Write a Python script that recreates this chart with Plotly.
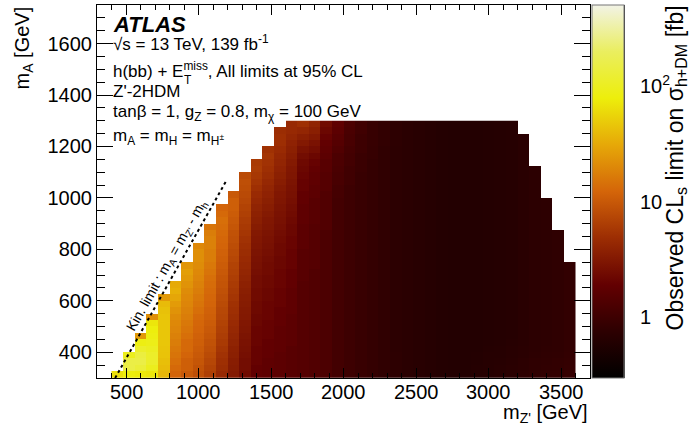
import math
import plotly.graph_objects as go

# ---------------- data ----------------
# bin edges of the 2D limit map
mzp_edges = [400, 480, 560, 640, 720, 800, 880, 960, 1040, 1120, 1200, 1280, 1360, 1440,
             1520, 1600, 1680, 1760, 1840, 1920, 2000, 2080, 2160, 2240, 2320, 2400, 2480,
             2560, 2640, 2720, 2800, 2880, 2960, 3040, 3120, 3200, 3280, 3360, 3440, 3520, 3600]
ma_edges = [300, 325, 350, 375, 400, 425, 450, 475, 500, 525, 550, 575, 600, 625, 650, 675,
            700, 725, 750, 775, 800, 825, 850, 875, 900, 925, 950, 975, 1000, 1025, 1050,
            1075, 1100, 1125, 1150, 1175, 1200, 1225, 1250, 1275, 1300]

# observed limit [fb], one list per m_Z' column, listed from the lowest m_A bin upwards
limit_by_column = [
    [65],
    [80, 150, 150, 95],
    [75, 130, 150, 140, 110, 85, 25],
    [70, 95, 110, 110, 100, 90, 85, 80, 70, 22],
    [38, 40, 42, 44, 45, 46, 46, 46, 46, 45, 43, 40, 25],
    [12, 13, 14, 15, 16, 17, 18, 19, 20, 21, 23, 26, 30, 34, 32],
    [10, 11, 11, 12, 13, 13, 14, 15, 16, 17, 18, 19, 20, 21, 23, 25, 27, 24],
    [8.5, 9, 9.5, 10, 10.5, 11, 11.5, 12, 12.5, 13, 14, 15, 16, 17, 18, 19, 20, 21, 22, 22, 20],
    [6.5, 7, 7.5, 8, 8.5, 9, 9.5, 10, 10.5, 11, 11.5, 12, 12.5, 13, 13.5, 14, 15, 16, 17, 17,
     18, 18, 17, 15],
    [4.5, 4.8, 5, 5.3, 5.6, 6, 6.3, 6.6, 7, 7.3, 7.6, 8, 8.4, 8.8, 9.2, 9.6, 10, 10.5, 11, 11.5,
     12, 12.5, 13, 13.5, 14, 13, 12],
    [3.3, 3.4, 3.5, 3.7, 3.8, 4, 4.2, 4.4, 4.6, 4.8, 5, 5.2, 5.5, 5.8, 6.1, 6.4, 6.7, 7, 7.4, 7.8,
     8.2, 8.6, 9, 9.5, 10, 10.5, 11, 11, 10],
    [2.4, 2.5, 2.5, 2.6, 2.7, 2.8, 2.9, 3.0, 3.1, 3.2, 3.3, 3.4, 3.5, 3.6, 3.8, 4.0, 4.2, 4.4, 4.6, 4.8,
     5.0, 5.3, 5.6, 5.9, 6.2, 6.6, 7.0, 7.4, 7.8, 8.2, 8.5, 8.0],
    [1.9, 1.9, 2.0, 2.0, 2.0, 2.1, 2.1, 2.1, 2.2, 2.2, 2.3, 2.3, 2.4, 2.4, 2.5, 2.5, 2.6, 2.7, 2.8, 2.9,
     3.0, 3.1, 3.2, 3.4, 3.6, 3.8, 4.0, 4.3, 4.6, 5.0, 5.4, 5.8, 6.2, 6.0],
    [1.8, 1.8, 1.8, 1.9, 1.9, 1.9, 2.0, 2.0, 2.0, 2.1, 2.1, 2.1, 2.2, 2.2, 2.3, 2.3, 2.4, 2.4, 2.5, 2.6,
     2.7, 2.8, 2.9, 3.0, 3.1, 3.3, 3.5, 3.7, 3.9, 4.1, 4.4, 4.7, 5.0, 5.3, 5.5, 5.2],
    [1.7, 1.7, 1.7, 1.7, 1.8, 1.8, 1.8, 1.8, 1.9, 1.9, 1.9, 2.0, 2.0, 2.0, 2.1, 2.1, 2.1, 2.2, 2.2, 2.3,
     2.3, 2.4, 2.5, 2.6, 2.7, 2.8, 2.9, 3.0, 3.1, 3.3, 3.5, 3.7, 3.9, 4.1, 4.3, 4.6, 4.9, 5.0, 4.8],
    [1.6, 1.6, 1.6, 1.6, 1.6, 1.7, 1.7, 1.7, 1.7, 1.7, 1.8, 1.8, 1.8, 1.8, 1.9, 1.9, 1.9, 2.0, 2.0, 2.0,
     2.1, 2.1, 2.2, 2.2, 2.3, 2.4, 2.5, 2.6, 2.7, 2.8, 2.9, 3.0, 3.1, 3.3, 3.5, 3.7, 3.9, 4.2, 4.5, 4.5],
    [1.5, 1.5, 1.5, 1.5, 1.5, 1.5, 1.5, 1.5, 1.5, 1.5, 1.5, 1.5, 1.5, 1.5, 1.5, 1.6, 1.6, 1.6, 1.6, 1.6,
     1.7, 1.7, 1.7, 1.7, 1.8, 1.8, 1.8, 1.9, 1.9, 2.0, 2.0, 2.1, 2.2, 2.3, 2.5, 2.8, 3.2, 3.6, 4.2, 5.0],
    [1.4, 1.4, 1.4, 1.4, 1.4, 1.4, 1.4, 1.4, 1.4, 1.4, 1.4, 1.4, 1.4, 1.4, 1.4, 1.4, 1.4, 1.5, 1.5, 1.5,
     1.5, 1.5, 1.5, 1.5, 1.6, 1.6, 1.6, 1.6, 1.7, 1.7, 1.8, 1.8, 1.9, 2.0, 2.2, 2.5, 2.8, 3.2, 3.6, 4.0],
    [1.3, 1.3, 1.3, 1.3, 1.3, 1.3, 1.3, 1.3, 1.3, 1.3, 1.3, 1.3, 1.3, 1.3, 1.3, 1.3, 1.3, 1.3, 1.3, 1.3,
     1.3, 1.3, 1.3, 1.4, 1.4, 1.4, 1.4, 1.4, 1.4, 1.5, 1.5, 1.5, 1.6, 1.6, 1.7, 1.8, 1.9, 2.0, 2.2, 2.4],
    [1.1, 1.1, 1.1, 1.1, 1.1, 1.1, 1.1, 1.1, 1.1, 1.1, 1.1, 1.1, 1.1, 1.1, 1.1, 1.1, 1.1, 1.1, 1.1, 1.1,
     1.1, 1.1, 1.1, 1.1, 1.1, 1.1, 1.1, 1.1, 1.15, 1.15, 1.2, 1.2, 1.25, 1.3, 1.3, 1.4, 1.5, 1.6, 1.7, 1.8],
    [1.0, 1.0, 1.0, 1.0, 1.0, 1.0, 1.0, 1.0, 1.0, 1.0, 1.0, 1.0, 1.0, 1.0, 1.0, 1.0, 1.0, 1.0, 1.0, 1.0,
     1.0, 1.0, 1.0, 1.0, 1.0, 1.0, 1.0, 1.0, 1.0, 1.0, 1.05, 1.05, 1.05, 1.1, 1.1, 1.15, 1.2, 1.2, 1.25, 1.3],
    [0.92, 0.92, 0.92, 0.92, 0.92, 0.92, 0.92, 0.92, 0.92, 0.92, 0.92, 0.92, 0.92, 0.92, 0.92, 0.92,
     0.92, 0.92, 0.92, 0.92, 0.92, 0.92, 0.92, 0.92, 0.92, 0.92, 0.92, 0.92, 0.92, 0.92, 0.92, 0.92,
     0.95, 0.95, 0.95, 1.0, 1.0, 1.0, 1.05, 1.05],
    [0.86, 0.86, 0.86, 0.86, 0.86, 0.86, 0.86, 0.86, 0.86, 0.86, 0.86, 0.86, 0.86, 0.86, 0.86, 0.86,
     0.86, 0.86, 0.86, 0.86, 0.86, 0.86, 0.86, 0.86, 0.86, 0.86, 0.86, 0.86, 0.86, 0.86, 0.86, 0.86,
     0.86, 0.86, 0.88, 0.88, 0.9, 0.9, 0.9, 0.9],
    [0.8, 0.8, 0.8, 0.8, 0.8, 0.8, 0.8, 0.8, 0.8, 0.8, 0.8, 0.8, 0.8, 0.8, 0.8, 0.8, 0.8, 0.8, 0.8, 0.8,
     0.8, 0.8, 0.8, 0.8, 0.8, 0.8, 0.8, 0.8, 0.8, 0.8, 0.8, 0.8, 0.8, 0.8, 0.8, 0.8, 0.82, 0.82, 0.82, 0.82],
    [0.76, 0.76, 0.76, 0.76, 0.75, 0.75, 0.75, 0.75, 0.75, 0.75, 0.75, 0.75, 0.75, 0.75, 0.75, 0.75,
     0.75, 0.75, 0.75, 0.75, 0.75, 0.75, 0.75, 0.75, 0.75, 0.75, 0.75, 0.75, 0.75, 0.75, 0.75, 0.75,
     0.75, 0.75, 0.75, 0.75, 0.76, 0.76, 0.76, 0.76],
    [0.72, 0.72, 0.72, 0.72, 0.71, 0.71, 0.71, 0.71, 0.71, 0.71, 0.71, 0.71, 0.71, 0.71, 0.71, 0.71,
     0.71, 0.71, 0.71, 0.71, 0.71, 0.71, 0.71, 0.71, 0.71, 0.71, 0.71, 0.71, 0.71, 0.71, 0.71, 0.71,
     0.71, 0.71, 0.71, 0.71, 0.72, 0.72, 0.72, 0.72],
    [0.68, 0.68, 0.68, 0.68, 0.68, 0.68, 0.68, 0.68, 0.68, 0.68, 0.68, 0.68, 0.68, 0.68, 0.68, 0.68,
     0.68, 0.68, 0.68, 0.68, 0.68, 0.68, 0.68, 0.68, 0.68, 0.68, 0.68, 0.68, 0.68, 0.68, 0.68, 0.68,
     0.68, 0.68, 0.68, 0.68, 0.68, 0.68, 0.68, 0.68],
    [0.65, 0.65, 0.65, 0.65, 0.65, 0.65, 0.65, 0.65, 0.65, 0.65, 0.65, 0.65, 0.65, 0.65, 0.65, 0.65,
     0.65, 0.65, 0.65, 0.65, 0.65, 0.65, 0.65, 0.65, 0.65, 0.65, 0.65, 0.65, 0.65, 0.65, 0.65, 0.65,
     0.65, 0.65, 0.65, 0.65, 0.65, 0.65, 0.65, 0.65],
    [0.63, 0.63, 0.63, 0.63, 0.63, 0.63, 0.63, 0.63, 0.63, 0.63, 0.63, 0.63, 0.63, 0.63, 0.63, 0.63,
     0.63, 0.63, 0.63, 0.63, 0.63, 0.63, 0.63, 0.63, 0.63, 0.63, 0.63, 0.63, 0.63, 0.63, 0.63, 0.63,
     0.63, 0.63, 0.63, 0.63, 0.63, 0.63, 0.63, 0.63],
    [0.62, 0.62, 0.62, 0.62, 0.62, 0.62, 0.62, 0.62, 0.62, 0.62, 0.62, 0.62, 0.62, 0.62, 0.62, 0.62,
     0.62, 0.62, 0.62, 0.62, 0.62, 0.62, 0.62, 0.62, 0.62, 0.62, 0.62, 0.62, 0.62, 0.62, 0.62, 0.62,
     0.62, 0.62, 0.62, 0.62, 0.62, 0.62, 0.62, 0.62],
    [0.62, 0.62, 0.62, 0.62, 0.62, 0.62, 0.62, 0.62, 0.62, 0.62, 0.62, 0.62, 0.62, 0.62, 0.62, 0.62,
     0.62, 0.62, 0.62, 0.62, 0.62, 0.62, 0.62, 0.62, 0.62, 0.62, 0.62, 0.62, 0.62, 0.62, 0.62, 0.62,
     0.62, 0.62, 0.62, 0.62, 0.62, 0.62, 0.62, 0.62],
    [0.64, 0.64, 0.63, 0.63, 0.62, 0.62, 0.62, 0.62, 0.62, 0.62, 0.62, 0.62, 0.62, 0.62, 0.62, 0.62,
     0.62, 0.62, 0.62, 0.62, 0.62, 0.62, 0.62, 0.62, 0.62, 0.62, 0.62, 0.62, 0.62, 0.62, 0.62, 0.62,
     0.62, 0.62, 0.62, 0.62, 0.62, 0.62, 0.62, 0.62],
    [0.66, 0.66, 0.65, 0.65, 0.64, 0.63, 0.63, 0.63, 0.63, 0.63, 0.63, 0.63, 0.63, 0.63, 0.63, 0.63,
     0.63, 0.63, 0.63, 0.63, 0.63, 0.63, 0.63, 0.63, 0.63, 0.63, 0.63, 0.63, 0.63, 0.63, 0.63, 0.63,
     0.63, 0.63, 0.63, 0.63, 0.63, 0.63, 0.63, 0.63],
    [0.68, 0.68, 0.67, 0.66, 0.65, 0.64, 0.64, 0.64, 0.64, 0.64, 0.64, 0.64, 0.64, 0.64, 0.64, 0.64,
     0.64, 0.64, 0.64, 0.64, 0.64, 0.64, 0.64, 0.64, 0.64, 0.64, 0.64, 0.64, 0.64, 0.64, 0.64, 0.64,
     0.64, 0.64, 0.64, 0.64, 0.64, 0.64, 0.64, 0.64],
    [0.72, 0.72, 0.7, 0.69, 0.68, 0.67, 0.66, 0.66, 0.66, 0.66, 0.66, 0.66, 0.66, 0.66, 0.66, 0.66,
     0.66, 0.66, 0.66, 0.66, 0.66, 0.66, 0.66, 0.66, 0.66, 0.66, 0.66, 0.66, 0.66, 0.66, 0.66, 0.66,
     0.66, 0.66, 0.66, 0.66, 0.66, 0.66, 0.66, 0.66],
    [0.76, 0.75, 0.74, 0.72, 0.71, 0.7, 0.7, 0.7, 0.7, 0.7, 0.7, 0.7, 0.7, 0.7, 0.7, 0.7,
     0.7, 0.7, 0.7, 0.7, 0.7, 0.7, 0.7, 0.7, 0.7, 0.7, 0.7, 0.7, 0.7, 0.7, 0.7, 0.7,
     0.7, 0.7, 0.7, 0.7, 0.7, 0.7],
    [0.8, 0.79, 0.78, 0.76, 0.75, 0.74, 0.74, 0.74, 0.74, 0.74, 0.74, 0.74, 0.74, 0.74, 0.74, 0.74,
     0.74, 0.74, 0.74, 0.74, 0.74, 0.74, 0.74, 0.74, 0.74, 0.74, 0.74, 0.74, 0.74, 0.74, 0.74, 0.74,
     0.74],
    [0.82, 0.81, 0.8, 0.78, 0.77, 0.76, 0.76, 0.76, 0.76, 0.76, 0.76, 0.76, 0.76, 0.76, 0.76, 0.76,
     0.76, 0.76, 0.76, 0.76, 0.76, 0.76, 0.76, 0.76, 0.76, 0.76, 0.76, 0.76],
    [0.84, 0.83, 0.82, 0.8, 0.79, 0.78, 0.78, 0.78, 0.78, 0.78, 0.78, 0.78, 0.78, 0.78, 0.78, 0.78,
     0.78, 0.78, 0.78, 0.78, 0.78, 0.78, 0.78],
    [0.88, 0.87, 0.86, 0.84, 0.83, 0.82, 0.82, 0.82, 0.82, 0.82, 0.82, 0.82, 0.82, 0.82, 0.82, 0.82,
     0.82, 0.82],
]

# kinematic limit line  m_A = m_Z' - m_h
kin_mzp = [425, 1190]
kin_ma = [300, 1065]

# labelled m_Z' ticks
mzp_tick_labels = [500, 1000, 1500, 2000, 2500, 3000, 3500]

# colour-bar range and labelled ticks [fb]
z_min_fb, z_max_fb = 0.3, 500
cb_major = [1, 10, 100]
cb_major_text = ["1", "10", "10<sup>2</sup>"]

# ---------------- build ----------------
n_rows = len(ma_edges) - 1
z = []
for r in range(n_rows):
    z.append([math.log10(col[r]) if r < len(col) else None for col in limit_by_column])

# ROOT "dark body radiator" palette
stops = [0.0, 0.125, 0.25, 0.375, 0.5, 0.625, 0.75, 0.875, 1.0]
red = [0, 45, 99, 156, 212, 230, 237, 234, 242]
green = [0, 0, 0, 45, 101, 168, 238, 238, 243]
blue = [0, 1, 1, 3, 9, 8, 11, 95, 230]
colorscale = [[s, f"rgb({r},{g},{b})"] for s, r, g, b in zip(stops, red, green, blue)]

FONT = "Liberation Sans, Arial, Helvetica, sans-serif"

W, H = 692, 427
L, R, T, B = 97, 0, 5, 49
pw, ph = W - L - R, H - T - B
FRAME_RIGHT = 590      # right edge of the frame [px]
CB_LEFT, CB_RIGHT = 592, 624   # colour bar [px]


def px(xp):
    return (xp - L) / pw


def py(yp):
    return (H - B - yp) / ph


fig = go.Figure()
fig.add_trace(go.Heatmap(
    x=mzp_edges, y=ma_edges, z=z,
    zmin=math.log10(z_min_fb), zmax=math.log10(z_max_fb),
    colorscale=colorscale, hoverongaps=False,
    colorbar=dict(
        x=px(CB_LEFT), xanchor="left", xpad=0, y=0, yanchor="bottom", ypad=0,
        len=1, lenmode="fraction", thickness=CB_RIGHT - CB_LEFT, thicknessmode="pixels",
        showticklabels=False, ticks="", outlinewidth=1, outlinecolor="#777",
    ),
))
fig.add_trace(go.Scatter(
    x=kin_mzp, y=kin_ma, mode="lines",
    line=dict(color="black", width=2, dash="dot"), hoverinfo="skip",
))
# carrier of the colour-bar log axis
fig.add_trace(go.Scatter(x=[None], y=[None], yaxis="y2", mode="markers", hoverinfo="skip"))

annos = [
    dict(text="<b><i>ATLAS</i></b>", x=px(111), y=py(24), size=22),
    dict(text="\u221as = 13 TeV, 139 fb<sup>-1</sup>", x=px(111), y=py(43), size=17),
    dict(text="h(bb) + E<sup>miss</sup>, All limits at 95% CL", x=px(111), y=py(70), size=17),
    dict(text="Z'-2HDM", x=px(111), y=py(91), size=17),
    dict(text="tan\u03b2 = 1, g<sub>Z</sub> = 0.8, m<sub>\u03c7</sub> = 100 GeV", x=px(111), y=py(113), size=17),
    dict(text="m<sub>A</sub> = m<sub>H</sub> = m<sub>H<sup>\u00b1</sup></sub>", x=px(111), y=py(137), size=17),
]
for a in annos:
    fig.add_annotation(text=a["text"], x=a["x"], y=a["y"], xref="paper", yref="paper",
                       xanchor="left", yanchor="middle", showarrow=False,
                       font=dict(family=FONT, size=a["size"], color="black"))
# subscript T under "miss"
fig.add_annotation(text="T", x=px(182), y=py(80), xref="paper", yref="paper",
                   xanchor="left", yanchor="middle", showarrow=False,
                   font=dict(family=FONT, size=12, color="black"))

# kinematic-limit label
fig.add_annotation(text="Kin. limit : m<sub>A</sub> = m<sub>Z'</sub> - m<sub>h</sub>",
                   x=786, y=738, xref="x", yref="y", textangle=-60.6, showarrow=False,
                   font=dict(family=FONT, size=14, color="black"))

# m_Z' tick labels (placed on the x scale)
for v in mzp_tick_labels:
    fig.add_annotation(text=str(v), x=v, y=py(392), xref="x", yref="paper",
                       xanchor="center", yanchor="middle", showarrow=False,
                       font=dict(family=FONT, size=20, color="black"))

# axis titles
fig.add_annotation(text="m<sub>Z'</sub> [GeV]", x=px(590), y=py(413), xref="paper", yref="paper",
                   xanchor="right", yanchor="middle", showarrow=False,
                   font=dict(family=FONT, size=20, color="black"))
fig.add_annotation(text="m<sub>A</sub> [GeV]", x=px(23), y=1.0, xref="paper", yref="paper",
                   xanchor="center", yanchor="top", textangle=-90, showarrow=False,
                   font=dict(family=FONT, size=20, color="black"))
fig.add_annotation(text="Observed CL<sub>s</sub> limit on \u03c3<sub>h+DM</sub> [fb]",
                   x=px(676), y=py(4), xref="paper", yref="paper",
                   xanchor="center", yanchor="top", textangle=-90, showarrow=False,
                   font=dict(family=FONT, size=23, color="black"))

axis_common = dict(showgrid=False, zeroline=False, showline=True, linecolor="black", linewidth=1,
                   mirror="ticks", ticks="inside", tickcolor="black", tickwidth=1,
                   tickfont=dict(family=FONT, size=20, color="black"))
fig.update_layout(
    xaxis=dict(domain=[0, px(FRAME_RIGHT)], range=[300, 3700], tickmode="linear", tick0=500,
               dtick=500, ticklen=10, showticklabels=False,
               minor=dict(dtick=100, tick0=500, ticks="inside", ticklen=5, tickcolor="black",
                          showgrid=False),
               **axis_common),
    yaxis=dict(range=[300, 1750], tickmode="linear", tick0=400, dtick=200, ticklen=16,
               minor=dict(dtick=50, tick0=400, ticks="inside", ticklen=8, tickcolor="black",
                          showgrid=False),
               **axis_common),
    yaxis2=dict(type="log", range=[math.log10(z_min_fb), math.log10(z_max_fb)],
                overlaying="y", anchor="free", position=px(CB_RIGHT), side="right",
                showgrid=False, zeroline=False, showline=True, linecolor="#333", linewidth=1,
                tickmode="array", tickvals=cb_major, ticktext=cb_major_text,
                ticks="inside", ticklen=14, tickcolor="#222", tickwidth=1,
                ticklabelstandoff=11,
                minor=dict(dtick="D1", ticks="inside", ticklen=7, tickcolor="#222",
                           showgrid=False),
                tickfont=dict(family=FONT, size=20, color="black")),
    width=W, height=H, margin=dict(l=L, r=R, t=T, b=B, autoexpand=False),
    plot_bgcolor="white", paper_bgcolor="white", showlegend=False,
    font=dict(family=FONT, size=20, color="black"),
)

fig.write_html("out.html", config={"displayModeBar": False},
               post_script="document.body.style.margin='0px';document.body.style.padding='0px';")
